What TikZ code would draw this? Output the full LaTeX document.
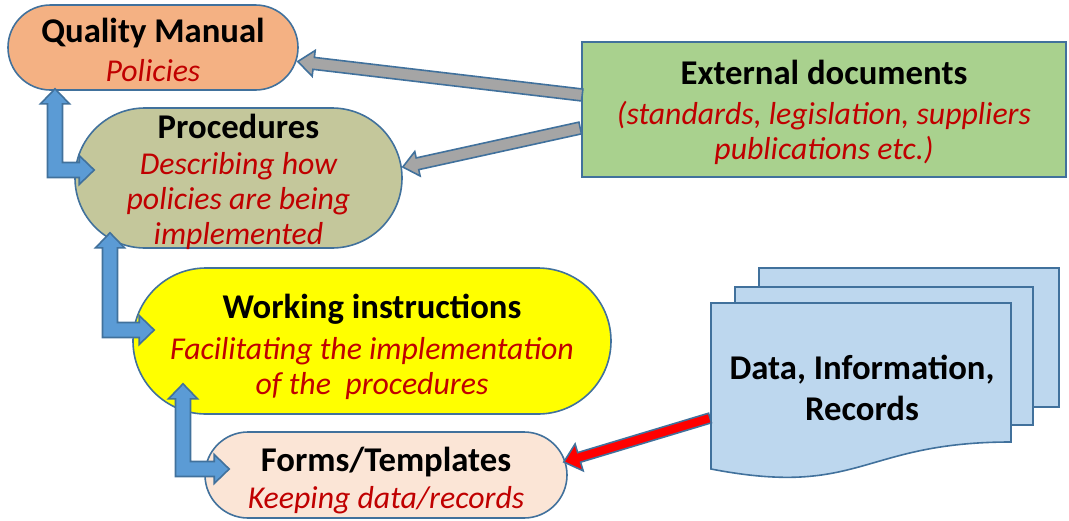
\documentclass[tikz,border=0pt]{standalone}
\usepackage{fontspec}
\setmainfont{Carlito}
\usetikzlibrary{shapes.misc,calc}
\definecolor{olb}{RGB}{65,113,156}
\definecolor{qmfill}{RGB}{244,177,131}
\definecolor{procfill}{RGB}{196,199,155}
\definecolor{wifill}{RGB}{255,255,0}
\definecolor{formfill}{RGB}{251,229,214}
\definecolor{extfill}{RGB}{169,209,142}
\definecolor{docfill}{RGB}{189,215,238}
\definecolor{bluearrow}{RGB}{91,155,213}
\definecolor{grayarrow}{RGB}{165,165,165}
\definecolor{redtxt}{RGB}{192,0,0}
\definecolor{redarrow}{RGB}{255,0,0}
\newcommand\qhd{\fontsize{34.7}{40}\selectfont\upshape\bfseries\color{black}}
\newcommand\qtx{\fontsize{31.8}{35}\selectfont\itshape}
\newcommand\qup[1]{\rule{0pt}{#1}}
\tikzset{
  box/.style={rounded rectangle, draw=olb, line width=1.6pt, inner sep=0pt,
    align=center, font=\qtx, text=redtxt},
  boxtext/.style={inner sep=0pt, align=center, font=\qtx, text=redtxt},
  sheet/.style={draw=olb, line width=1.6pt, fill=docfill},
  barrow/.style={draw=olb, line width=1.6pt, fill=bluearrow, line join=miter},
  garrow/.style={draw=olb, line width=1.6pt, fill=grayarrow, line join=miter},
  rarrow/.style={draw=olb, line width=1.6pt, fill=redarrow, line join=miter}
}
% straight block arrow: start, tip, half shaft, half head, head length, style
\newcommand\blockarrow[6]{%
  \coordinate (sa) at (#1);
  \coordinate (ta) at (#2);
  \coordinate (ba) at ($(ta)!#5!(sa)$);
  \path[#6] ($(sa)!#3!90:(ta)$) -- ($(ba)!#3!90:(ta)$) -- ($(ba)!#4!90:(ta)$)
    -- (ta) -- ($(ba)!#4!-90:(ta)$) -- ($(ba)!#3!-90:(ta)$) -- ($(sa)!#3!-90:(ta)$) -- cycle;
}
% elbow double block arrow: top tip, right tip
\newcommand\elbowarrow[2]{%
  \path[barrow] let \p1=(#1), \p2=(#2) in
    (\x1,\y1) -- (\x1+14.5pt,\y1-15pt) -- (\x1+7.5pt,\y1-15pt) -- (\x1+7.5pt,\y2+7.5pt)
    -- (\x2-15pt,\y2+7.5pt) -- (\x2-15pt,\y2+14.5pt) -- (\x2,\y2) -- (\x2-15pt,\y2-14.5pt)
    -- (\x2-15pt,\y2-7.5pt) -- (\x1-7.5pt,\y2-7.5pt) -- (\x1-7.5pt,\y1-15pt)
    -- (\x1-14.5pt,\y1-15pt) -- cycle;
}
\begin{document}
\begin{tikzpicture}[x=1pt,y=-1pt]
\useasboundingbox (0,0) rectangle (1069,520);

% main boxes
\node[box, fill=qmfill, minimum width=290pt, minimum height=85pt] (qm) at (153,47.5)
  {{\qhd\qup{30pt}Quality Manual}\\[4pt] Policies};
\node[box, fill=procfill, minimum width=327pt, minimum height=140pt] (proc) at (238.5,178) {};
\node[boxtext] (proctext) at ($(proc.center)+(0,4)$)
  {{\qhd Procedures}\\[1pt] Describing how\\ policies are being\\ implemented};
\node[box, fill=wifill, minimum width=478pt, minimum height=146pt] (wi) at (372,341)
  {{\qhd\qup{36pt}Working instructions}\\[6pt] Facilitating the implementation\\ of the\ \ procedures};
\node[box, fill=formfill, minimum width=362pt, minimum height=86pt] (forms) at (386,475)
  {{\qhd\qup{36pt}Forms/Templates}\\[2pt] Keeping data/records};
\node[draw=olb, line width=1.6pt, fill=extfill, inner sep=0pt, align=center,
  font=\qtx, text=redtxt, minimum width=484pt, minimum height=135pt] (ext) at (824,109.5)
  {{\qhd\qup{31pt}External documents}\\[5pt] (standards, legislation, suppliers\\ publications etc.)};

% document stack
\path[sheet] (759,268) rectangle (1059,407);
\path[sheet] (735,287) rectangle (1033,425);
\path[sheet] (711,303) -- (1011,303) -- (1011,442)
  .. controls (861,442) and (861,498) .. (711,469) -- cycle;
\node[font=\fontsize{34.7}{41}\selectfont\bfseries, align=center, inner sep=0pt] (data) at (862,388)
  {Data, Information,\\ Records};
\coordinate (frontleft) at (710,418);

% gray arrows from external documents
\blockarrow{$(ext.west)+(1,-14.5)$}{$(qm.east)+(-1,14)$}{6pt}{13pt}{16pt}{garrow}
\blockarrow{$(ext.west)+(-1,18.5)$}{$(proc.east)+(0,-11)$}{6pt}{12.5pt}{15pt}{garrow}

% red arrow from records
\blockarrow{frontleft}{$(forms.east)+(-4,-13)$}{5pt}{14pt}{16pt}{rarrow}

% blue elbow arrows
\elbowarrow{$(qm.south)+(-98,-2)$}{$(proc.west)+(20,-8)$}
\elbowarrow{$(proc.south)+(-128.5,-16)$}{$(wi.west)+(22,-11)$}
\elbowarrow{$(wi.south)+(-189,-31)$}{$(forms.west)+(25,-6)$}
\end{tikzpicture}
\end{document}
